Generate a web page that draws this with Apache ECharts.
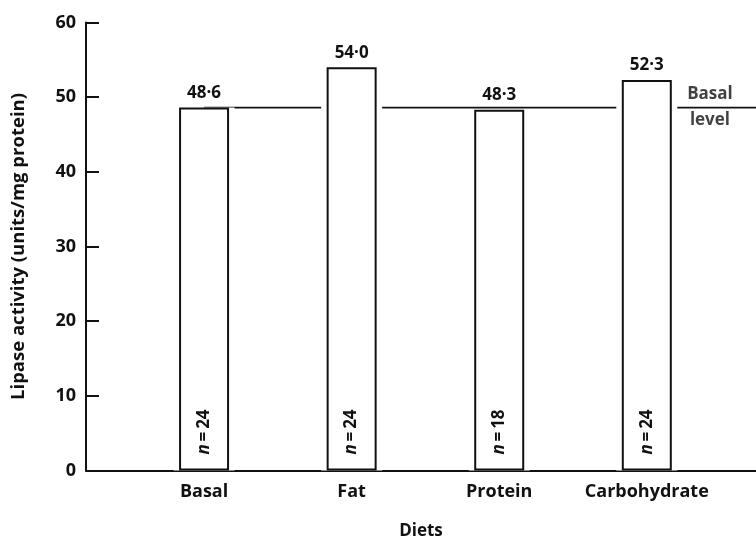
<!DOCTYPE html>
<html><head><meta charset="utf-8">
<script src="https://cdn.jsdelivr.net/npm/echarts@6/dist/echarts.min.js"></script>
<style>html,body{margin:0;padding:0;background:#fff}#c{width:756px;height:537px}</style>
</head><body><div id="c"></div>
<script>
const categories = ['Basal', 'Fat', 'Protein', 'Carbohydrate'];
const activity = [48.6, 54.0, 48.3, 52.3];
const sampleSizes = [24, 24, 18, 24];
const basalLevel = 48.6;
const yTicks = [0, 10, 20, 30, 40, 50, 60];

const FONT = 'Open Sans';
const W = 'bold';
const fmt = v => v.toFixed(1).replace('.', '\u00B7');
const xPos = categories.map((c, i) => i);
const X_MIN = -0.8, X_MAX = 3.74;

const chart = echarts.init(document.getElementById('c'));
const xBase = {
  type: 'value', min: X_MIN, max: X_MAX,
  splitLine: { show: false }
};
chart.setOption({
  animation: false,
  backgroundColor: '#fff',
  textStyle: { fontFamily: FONT },
  grid: { left: 86, right: 0, top: 22.5, bottom: 66.5, containLabel: false, outerBoundsMode: 'none' },
  xAxis: [
    Object.assign({}, xBase, {
      name: 'Diets', nameLocation: 'middle', nameGap: 52,
      nameTextStyle: { fontFamily: FONT, fontSize: 17, fontWeight: W, color: '#111' },
      axisLine: { show: true, onZero: false, lineStyle: { color: '#111', width: 2 } },
      axisTick: { show: false },
      axisLabel: {
        customValues: xPos, margin: 12,
        fontFamily: FONT, fontSize: 18, fontWeight: W, color: '#111',
        formatter: v => categories[Math.round(v)]
      }
    }),
    Object.assign({}, xBase, { show: false })
  ],
  yAxis: {
    type: 'value', min: 0, max: 60, interval: 10,
    name: 'Lipase activity (units/mg protein)', nameLocation: 'middle', nameGap: 58,
    nameTextStyle: { fontFamily: FONT, fontSize: 18.5, fontWeight: W, color: '#111' },
    axisLine: { show: true, onZero: false, lineStyle: { color: '#111', width: 2 } },
    axisTick: { show: true, inside: true, length: 13, lineStyle: { color: '#111', width: 2 } },
    axisLabel: { margin: 10, fontFamily: FONT, fontSize: 18, fontWeight: W, color: '#111',
      formatter: v => yTicks.includes(v) ? String(v) : '' },
    splitLine: { show: false }
  },
  series: [
    {
      type: 'line', xAxisIndex: 0, z: 1, symbol: 'none', silent: true,
      lineStyle: { color: '#111', width: 1.6 },
      data: [[0, basalLevel], [X_MAX, basalLevel]]
    },
    {
      type: 'bar', xAxisIndex: 1, z: 2, barWidth: 61, silent: true,
      itemStyle: { color: '#fff' },
      label: {
        show: true, position: 'insideBottom', rotate: 90, align: 'left', verticalAlign: 'middle',
        distance: 16, fontFamily: FONT, fontSize: 17, fontWeight: W, color: '#111',
        formatter: p => '{i|n}\u2009=\u2009' + sampleSizes[p.dataIndex],
        rich: { i: { fontStyle: 'italic', fontFamily: FONT, fontSize: 17, fontWeight: W, color: '#111' } }
      },
      data: xPos.map((x, i) => [x, activity[i]])
    },
    {
      type: 'bar', xAxisIndex: 0, z: 3, barWidth: 50,
      itemStyle: { color: 'rgba(0,0,0,0)', borderColor: '#111', borderWidth: 2 },
      label: {
        show: true, position: 'top', distance: 6,
        fontFamily: FONT, fontSize: 17, fontWeight: W, color: '#111',
        formatter: p => fmt(activity[p.dataIndex])
      },
      data: xPos.map((x, i) => [x, activity[i]])
    },
    {
      type: 'scatter', xAxisIndex: 0, z: 4, symbolSize: 0, silent: true,
      label: {
        show: true, position: 'inside', formatter: 'Basal\nlevel', lineHeight: 26,
        fontFamily: FONT, fontSize: 17, fontWeight: W, color: '#111'
      },
      data: [[3.428, basalLevel]]
    }
  ]
});
</script></body></html>
